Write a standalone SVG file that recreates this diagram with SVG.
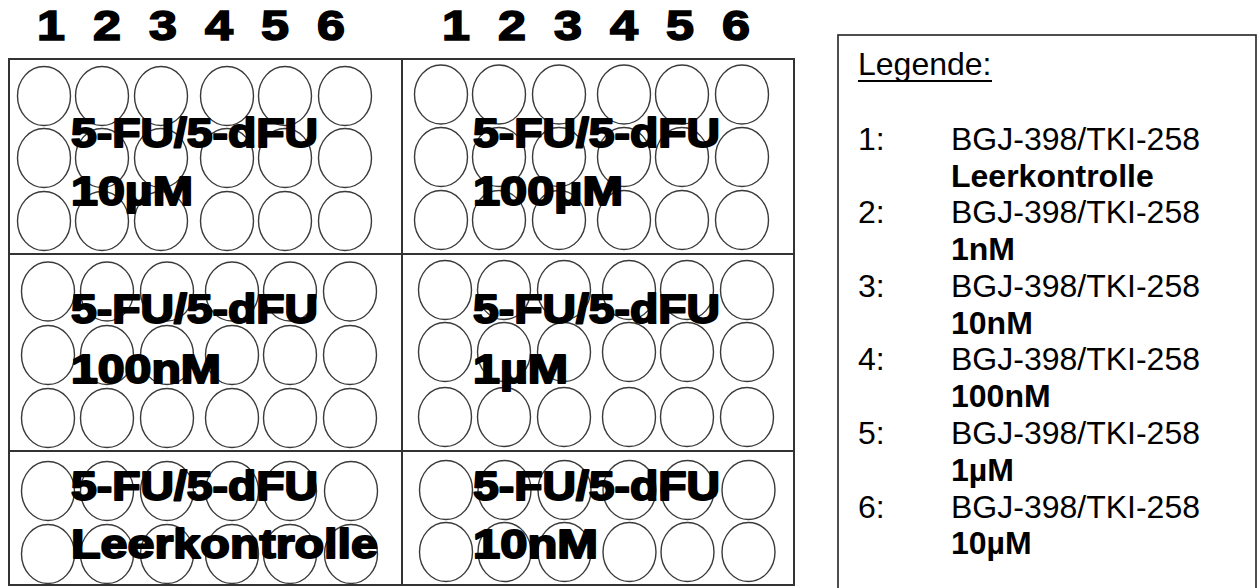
<svg xmlns="http://www.w3.org/2000/svg" xmlns:xlink="http://www.w3.org/1999/xlink" width="1257" height="588" viewBox="0 0 1257 588">
<style>
.frame{fill:none;stroke:#333;stroke-width:2}
.well{fill:none;stroke:#3a3a3a;stroke-width:1.4}
.hd{font-family:"Liberation Sans",Arial,sans-serif;font-weight:bold;font-size:42px;fill:#000;stroke:#000;stroke-width:1.6;text-anchor:middle}
.lab{font-family:"Liberation Sans",Arial,sans-serif;font-weight:bold;font-size:41px;fill:#000;stroke:#000;stroke-width:2;stroke-linejoin:round}
.lg{font-family:"Liberation Sans",Arial,sans-serif;font-size:32px;fill:#000}
.lgb{font-family:"Liberation Sans",Arial,sans-serif;font-size:32px;font-weight:bold;fill:#000}
</style>
<defs>
<ellipse id="w" cx="0" cy="0" rx="26.5" ry="29.5" class="well"/>
</defs>
<rect width="1257" height="588" fill="#fff"/>

<g id="header-left">
<text class="hd" x="51" y="40" textLength="28" lengthAdjust="spacingAndGlyphs">1</text>
<text class="hd" x="107" y="40" textLength="28" lengthAdjust="spacingAndGlyphs">2</text>
<text class="hd" x="163" y="40" textLength="28" lengthAdjust="spacingAndGlyphs">3</text>
<text class="hd" x="219" y="40" textLength="28" lengthAdjust="spacingAndGlyphs">4</text>
<text class="hd" x="275" y="40" textLength="28" lengthAdjust="spacingAndGlyphs">5</text>
<text class="hd" x="331" y="40" textLength="28" lengthAdjust="spacingAndGlyphs">6</text>
</g>
<g id="header-right">
<text class="hd" x="456" y="40" textLength="28" lengthAdjust="spacingAndGlyphs">1</text>
<text class="hd" x="512" y="40" textLength="28" lengthAdjust="spacingAndGlyphs">2</text>
<text class="hd" x="568" y="40" textLength="28" lengthAdjust="spacingAndGlyphs">3</text>
<text class="hd" x="624" y="40" textLength="28" lengthAdjust="spacingAndGlyphs">4</text>
<text class="hd" x="680" y="40" textLength="28" lengthAdjust="spacingAndGlyphs">5</text>
<text class="hd" x="736" y="40" textLength="28" lengthAdjust="spacingAndGlyphs">6</text>
</g>

<g id="plate-frames">
<rect class="frame" x="9" y="59" width="393" height="526"/>
<rect class="frame" x="402" y="59" width="392" height="526"/>
<line class="frame" x1="9" y1="254" x2="794" y2="254"/>
<line class="frame" x1="9" y1="451" x2="794" y2="451"/>
</g>

<g id="plate-tl">
<use xlink:href="#w" x="44" y="96"/><use xlink:href="#w" x="102" y="96"/><use xlink:href="#w" x="161" y="96"/><use xlink:href="#w" x="227" y="96"/><use xlink:href="#w" x="285" y="96"/><use xlink:href="#w" x="345" y="96"/>
<use xlink:href="#w" x="44" y="158"/><use xlink:href="#w" x="102" y="158"/><use xlink:href="#w" x="161" y="158"/><use xlink:href="#w" x="227" y="158"/><use xlink:href="#w" x="285" y="158"/><use xlink:href="#w" x="345" y="158"/>
<use xlink:href="#w" x="44" y="221"/><use xlink:href="#w" x="102" y="221"/><use xlink:href="#w" x="161" y="221"/><use xlink:href="#w" x="227" y="221"/><use xlink:href="#w" x="285" y="221"/><use xlink:href="#w" x="345" y="221"/>
<text class="lab" x="71" y="147" textLength="247" lengthAdjust="spacingAndGlyphs">5-FU/5-dFU</text>
<text class="lab" x="71" y="205" textLength="122" lengthAdjust="spacingAndGlyphs">10µM</text>
</g>

<g id="plate-tr">
<use xlink:href="#w" x="441" y="94.5"/><use xlink:href="#w" x="499" y="94.5"/><use xlink:href="#w" x="559" y="94.5"/><use xlink:href="#w" x="624" y="94.5"/><use xlink:href="#w" x="682" y="94.5"/><use xlink:href="#w" x="742" y="94.5"/>
<use xlink:href="#w" x="441" y="157"/><use xlink:href="#w" x="499" y="157"/><use xlink:href="#w" x="559" y="157"/><use xlink:href="#w" x="624" y="157"/><use xlink:href="#w" x="682" y="157"/><use xlink:href="#w" x="742" y="157"/>
<use xlink:href="#w" x="441" y="220"/><use xlink:href="#w" x="499" y="220"/><use xlink:href="#w" x="559" y="220"/><use xlink:href="#w" x="624" y="220"/><use xlink:href="#w" x="682" y="220"/><use xlink:href="#w" x="742" y="220"/>
<text class="lab" x="473" y="147" textLength="247" lengthAdjust="spacingAndGlyphs">5-FU/5-dFU</text>
<text class="lab" x="473" y="205" textLength="150" lengthAdjust="spacingAndGlyphs">100µM</text>
</g>

<g id="plate-ml">
<use xlink:href="#w" x="48" y="291.5"/><use xlink:href="#w" x="107" y="291.5"/><use xlink:href="#w" x="167" y="291.5"/><use xlink:href="#w" x="232" y="291.5"/><use xlink:href="#w" x="290" y="291.5"/><use xlink:href="#w" x="350" y="291.5"/>
<use xlink:href="#w" x="48" y="355"/><use xlink:href="#w" x="107" y="355"/><use xlink:href="#w" x="167" y="355"/><use xlink:href="#w" x="232" y="355"/><use xlink:href="#w" x="290" y="355"/><use xlink:href="#w" x="350" y="355"/>
<use xlink:href="#w" x="48" y="418"/><use xlink:href="#w" x="107" y="418"/><use xlink:href="#w" x="167" y="418"/><use xlink:href="#w" x="232" y="418"/><use xlink:href="#w" x="290" y="418"/><use xlink:href="#w" x="350" y="418"/>
<text class="lab" x="71" y="323" textLength="247" lengthAdjust="spacingAndGlyphs">5-FU/5-dFU</text>
<text class="lab" x="71" y="383" textLength="150" lengthAdjust="spacingAndGlyphs">100nM</text>
</g>

<g id="plate-mr">
<use xlink:href="#w" x="445" y="290"/><use xlink:href="#w" x="504" y="290"/><use xlink:href="#w" x="564" y="290"/><use xlink:href="#w" x="629" y="290"/><use xlink:href="#w" x="687" y="290"/><use xlink:href="#w" x="747" y="290"/>
<use xlink:href="#w" x="445" y="352"/><use xlink:href="#w" x="504" y="352"/><use xlink:href="#w" x="564" y="352"/><use xlink:href="#w" x="629" y="352"/><use xlink:href="#w" x="687" y="352"/><use xlink:href="#w" x="747" y="352"/>
<use xlink:href="#w" x="445" y="417"/><use xlink:href="#w" x="504" y="417"/><use xlink:href="#w" x="564" y="417"/><use xlink:href="#w" x="629" y="417"/><use xlink:href="#w" x="687" y="417"/><use xlink:href="#w" x="747" y="417"/>
<text class="lab" x="473" y="323" textLength="247" lengthAdjust="spacingAndGlyphs">5-FU/5-dFU</text>
<text class="lab" x="473" y="383" textLength="95" lengthAdjust="spacingAndGlyphs">1µM</text>
</g>

<g id="plate-bl">
<use xlink:href="#w" x="48" y="491"/><use xlink:href="#w" x="107" y="491"/><use xlink:href="#w" x="167" y="491"/><use xlink:href="#w" x="232" y="491"/><use xlink:href="#w" x="290" y="491"/><use xlink:href="#w" x="351" y="491"/>
<use xlink:href="#w" x="48" y="554"/><use xlink:href="#w" x="107" y="554"/><use xlink:href="#w" x="167" y="554"/><use xlink:href="#w" x="232" y="554"/><use xlink:href="#w" x="290" y="554"/><use xlink:href="#w" x="351" y="554"/>
<text class="lab" x="71" y="500" textLength="247" lengthAdjust="spacingAndGlyphs">5-FU/5-dFU</text>
<text class="lab" x="71" y="558" textLength="307" lengthAdjust="spacingAndGlyphs">Leerkontrolle</text>
</g>

<g id="plate-br">
<use xlink:href="#w" x="446" y="490"/><use xlink:href="#w" x="504.5" y="490"/><use xlink:href="#w" x="564.5" y="490"/><use xlink:href="#w" x="629.5" y="490"/><use xlink:href="#w" x="687.5" y="490"/><use xlink:href="#w" x="748.5" y="490"/>
<use xlink:href="#w" x="446" y="552"/><use xlink:href="#w" x="504.5" y="552"/><use xlink:href="#w" x="564.5" y="552"/><use xlink:href="#w" x="629.5" y="552"/><use xlink:href="#w" x="687.5" y="552"/><use xlink:href="#w" x="748.5" y="552"/>
<text class="lab" x="473" y="500" textLength="247" lengthAdjust="spacingAndGlyphs">5-FU/5-dFU</text>
<text class="lab" x="473" y="558" textLength="125" lengthAdjust="spacingAndGlyphs">10nM</text>
</g>

<g id="legend">
<rect x="838" y="35" width="418" height="560" fill="none" stroke="#222" stroke-width="1.6"/>
<text class="lg" x="858" y="75">Legende:</text>
<line x1="858" y1="81" x2="992" y2="81" stroke="#000" stroke-width="2"/>
<text class="lg" x="858" y="150">1:</text><text class="lg" x="951" y="150">BGJ-398/TKI-258</text>
<text class="lgb" x="951" y="187">Leerkontrolle</text>
<text class="lg" x="858" y="223">2:</text><text class="lg" x="951" y="223">BGJ-398/TKI-258</text>
<text class="lgb" x="951" y="260">1nM</text>
<text class="lg" x="858" y="297">3:</text><text class="lg" x="951" y="297">BGJ-398/TKI-258</text>
<text class="lgb" x="951" y="334">10nM</text>
<text class="lg" x="858" y="370">4:</text><text class="lg" x="951" y="370">BGJ-398/TKI-258</text>
<text class="lgb" x="951" y="407">100nM</text>
<text class="lg" x="858" y="444">5:</text><text class="lg" x="951" y="444">BGJ-398/TKI-258</text>
<text class="lgb" x="951" y="481">1µM</text>
<text class="lg" x="858" y="518">6:</text><text class="lg" x="951" y="518">BGJ-398/TKI-258</text>
<text class="lgb" x="951" y="554">10µM</text>
</g>
</svg>
